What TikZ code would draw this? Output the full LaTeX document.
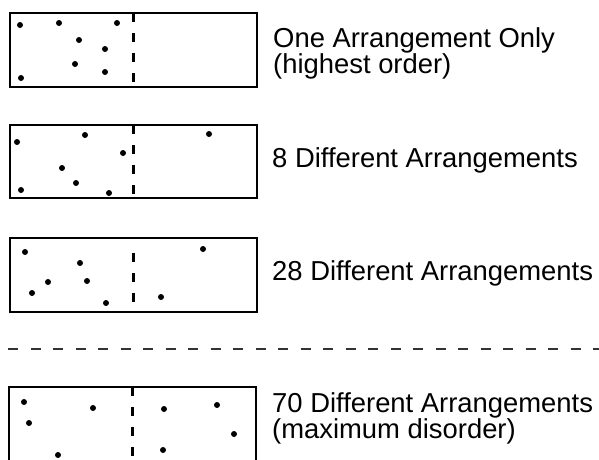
\documentclass[tikz,border=0pt]{standalone}
\usepackage{fontspec}
\setmainfont{Liberation Sans}
\begin{document}
\begin{tikzpicture}[x=1pt,y=-1pt,
  box/.style={draw=black,line width=2.4pt,minimum width=247pt,inner sep=0pt,outer sep=0pt},
  divider/.style={line width=2.4pt,dash pattern=on 9pt off 11pt},
  dot/.style={circle,fill=black,inner sep=0pt,minimum size=6pt},
  label/.style={anchor=base west,inner sep=0pt,align=left,font=\fontsize{27.4}{26}\selectfont},
  sep/.style={line width=1.4pt,draw=black!80,dash pattern=on 10pt off 12.5pt}]
\useasboundingbox (0,0) rectangle (599,459);
\clip (0,0) rectangle (599,459);
% box 1
\node[box,minimum height=74pt] (b1) at (133.5,50) {};
\draw[divider] (b1.north) -- (b1.south);
\foreach \n/\x/\y in {a/20/25,b/59/23,c/117/23,d/79/40,e/105/49,f/75/64,g/105/72,h/21/78}
  \node[dot] (d1\n) at (\x,\y) {};
\node[label] (t1) at (273,73) {One Arrangement Only\\(highest order)};
% box 2
\node[box,minimum height=73pt] (b2) at (133.5,161.5) {};
\draw[divider] (b2.north) -- (b2.south);
\foreach \n/\x/\y in {a/17/142,b/85/135,c/209/134,d/123/153,e/62/168,f/76/183,g/21/190,h/109/193}
  \node[dot] (d2\n) at (\x,\y) {};
\node[label] (t2) at (272,167) {8 Different Arrangements};
% box 3
\node[box,minimum height=74pt] (b3) at (133.5,275) {};
\draw[divider] ([yshift=-15pt]b3.north) -- (b3.south);
\foreach \n/\x/\y in {a/25/252,b/203/249,c/80/263,d/48/282,e/87/281,f/32/293,g/161/297,h/106/303}
  \node[dot] (d3\n) at (\x,\y) {};
\node[label] (t3) at (272,280) {28 Different Arrangements};
% separator
\coordinate (s1) at (8,349);
\coordinate (s2) at (599,349);
\draw[sep] (s1) -- (s2);
% box 4
\node[box,minimum height=83pt] (b4) at (132.5,428.5) {};
\draw[divider] (b4.north) -- (b4.south);
\foreach \n/\x/\y in {a/24/402,b/93/408,c/164/409,d/217/405,e/29/423,f/234/434,g/163/450,h/58/455}
  \node[dot] (d4\n) at (\x,\y) {};
\node[label] (t4) at (272,438) {70 Different Arrangements\\(maximum disorder)};
\end{tikzpicture}
\end{document}
